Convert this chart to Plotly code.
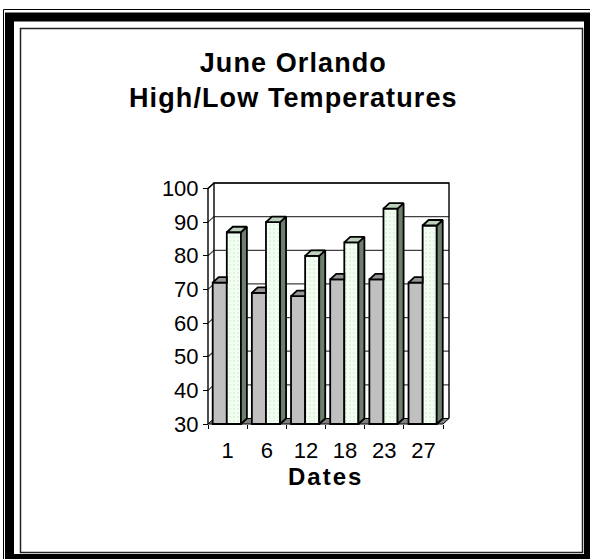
import plotly.graph_objects as go

# ---------------- data ----------------
dates = ["1", "6", "12", "18", "23", "27"]
low_temps = [72, 69, 68, 73, 73, 72]
high_temps = [87, 90, 80, 84, 94, 89]
y_ticks = [30, 40, 50, 60, 70, 80, 90, 100]
title_lines = ["June Orlando", "High/Low Temperatures"]
x_title = "Dates"

# ---------------- geometry (pixels of the reference) ----------------
W, H = 590, 559
X0_PX, X6_PX = 208, 443          # front floor edge, left/right
Y30_PX, Y100_PX = 424, 188.5     # front value scale
CAT_PX = (X6_PX - X0_PX) / 6
UNIT_PX = (Y30_PX - Y100_PX) / 70
DX = 6 / CAT_PX                  # 3-D depth in category units
DY = 5.5 / UNIT_PX               # 3-D depth in value units
PAD = 8
YMIN, YMAX = 30, 100
N = len(dates)

plot_l = X0_PX - PAD
plot_r = X6_PX + 6 + PAD
plot_b = Y30_PX + PAD
plot_t = Y100_PX - 5.5 - PAD
XL, XR = -PAD / CAT_PX, N + DX + PAD / CAT_PX
YB, YT = YMIN - PAD / UNIT_PX, YMAX + DY + PAD / UNIT_PX
pw, ph = plot_r - plot_l, plot_b - plot_t


def px(x):
    return (x - plot_l) / pw


def py(y):
    return (plot_b - y) / ph


LOW_OFF, HIGH_OFF, BW = 0.12, 0.48, 0.36
FONT = "Liberation Sans, Arial, sans-serif"
EDGE = dict(color="black", width=1.8)

fig = go.Figure()

# front faces of the bars
fig.add_trace(go.Bar(
    x=list(range(N)), y=[v - YMIN for v in low_temps], base=YMIN,
    width=BW, offset=LOW_OFF,
    marker=dict(color="#c0c0c0", line=EDGE),
    name="Low", hoverinfo="skip"))
fig.add_trace(go.Bar(
    x=list(range(N)), y=[v - YMIN for v in high_temps], base=YMIN,
    width=BW, offset=HIGH_OFF,
    marker=dict(color="#f2fff2",
                pattern=dict(shape=".", fgcolor="#cdeccd", bgcolor="#f4fff4",
                             size=4, solidity=0.35),
                line=EDGE),
    name="High", hoverinfo="skip"))


def polys(points_list):
    xs, ys = [], []
    for pts in points_list:
        for (a, b) in pts:
            xs.append(a)
            ys.append(b)
        xs.append(pts[0][0])
        ys.append(pts[0][1])
        xs.append(None)
        ys.append(None)
    return xs, ys


# top faces of low bars (clipped where hidden by the high bar)
low_tops = []
for i, v in enumerate(low_temps):
    x0, x1 = i + LOW_OFF, i + LOW_OFF + BW
    low_tops.append([(x0, v), (x1, v), (x1, v + DY), (x0 + DX, v + DY)])
xs, ys = polys(low_tops)
fig.add_trace(go.Scatter(x=xs, y=ys, mode="lines", fill="toself",
                         fillcolor="#959595", line=EDGE,
                         hoverinfo="skip", showlegend=False))

# side and top faces of high bars
high_sides, high_tops = [], []
for i, v in enumerate(high_temps):
    x0, x1 = i + HIGH_OFF, i + HIGH_OFF + BW
    high_sides.append([(x1, YMIN), (x1 + DX, YMIN + DY), (x1 + DX, v + DY), (x1, v)])
    high_tops.append([(x0, v), (x1, v), (x1 + DX, v + DY), (x0 + DX, v + DY)])
xs, ys = polys(high_sides)
fig.add_trace(go.Scatter(x=xs, y=ys, mode="lines", fill="toself",
                         fillcolor="#6e7f6e", line=EDGE,
                         hoverinfo="skip", showlegend=False))
xs, ys = polys(high_tops)
fig.add_trace(go.Scatter(x=xs, y=ys, mode="lines", fill="toself",
                         fillcolor="#bcd0bc", line=EDGE,
                         hoverinfo="skip", showlegend=False))

shapes = []
# gridlines on left wall + back wall
for v in y_ticks[1:]:
    shapes.append(dict(type="path", xref="x", yref="y", layer="below",
                       path=f"M 0,{v} L {DX},{v + DY} L {N + DX},{v + DY}",
                       line=dict(color="#404040", width=1.2)))
# floor
shapes.append(dict(type="path", xref="x", yref="y", layer="below",
                   path=f"M 0,{YMIN} L {N},{YMIN} L {N + DX},{YMIN + DY} L {DX},{YMIN + DY} Z",
                   fillcolor="#808080", line=dict(color="black", width=1)))
# walls outline
wall = [
    f"M {DX},{YMIN + DY} L {DX},{YMAX + DY} L {N + DX},{YMAX + DY} L {N + DX},{YMIN + DY}",
    f"M 0,{YMIN} L 0,{YMAX} L {DX},{YMAX + DY}",
]
for p in wall:
    shapes.append(dict(type="path", xref="x", yref="y", layer="below",
                       path=p, line=dict(color="black", width=1.4)))

# page frame
shapes.append(dict(type="rect", xref="paper", yref="paper",
                   x0=px(3.5), y0=py(9.5), x1=px(620), y1=py(620),
                   line=dict(color="black", width=1)))
shapes.append(dict(type="rect", xref="paper", yref="paper",
                   x0=px(9.5), y0=py(17), x1=px(588.5), y1=py(558.5),
                   line=dict(color="black", width=9)))
shapes.append(dict(type="rect", xref="paper", yref="paper",
                   x0=px(20.5), y0=py(28.5), x1=px(582.5), y1=py(552.5),
                   line=dict(color="#222222", width=1.5)))

annotations = [
    dict(xref="paper", yref="paper", x=px(293), y=py(81),
         xanchor="center", yanchor="middle", showarrow=False,
         text="<br>".join(f"<b><span style='letter-spacing:1.1px'>{t}</span></b>" for t in title_lines),
         font=dict(family=FONT, size=27, color="black")),
    dict(xref="paper", yref="paper", x=px(325), y=py(476.5),
         xanchor="center", yanchor="middle", showarrow=False,
         text=f"<b><span style='letter-spacing:2px'>{x_title}</span></b>",
         font=dict(family=FONT, size=24, color="black")),
]

fig.update_layout(
    width=W, height=H, autosize=False,
    margin=dict(l=plot_l, r=W - plot_r, t=plot_t, b=H - plot_b, pad=0),
    paper_bgcolor="white", plot_bgcolor="white",
    barmode="overlay", showlegend=False,
    shapes=shapes, annotations=annotations,
    xaxis=dict(range=[XL, XR], anchor="free", position=py(Y30_PX),
               tickmode="array", tickvals=[i + 0.5 for i in range(N)], ticktext=dates,
               ticks="", ticklabelstandoff=11, showgrid=False, zeroline=False, showline=False,
               tickfont=dict(family=FONT, size=22, color="black"),
               minor=dict(tickmode="array", tickvals=list(range(N + 1)), ticks="outside",
                          ticklen=4, tickcolor="black", tickwidth=1, showgrid=False),
               fixedrange=True),
    yaxis=dict(range=[YB, YT], anchor="free", position=px(X0_PX),
               tickmode="array", tickvals=y_ticks,
               ticks="outside", ticklen=5, tickcolor="black", tickwidth=1,
               showgrid=False, zeroline=False, showline=False,
               tickfont=dict(family=FONT, size=22, color="black"),
               fixedrange=True),
)

fig.write_html("out.html", config={"displayModeBar": False},
               post_script="document.body.style.margin='0';document.body.style.overflow='hidden';")
